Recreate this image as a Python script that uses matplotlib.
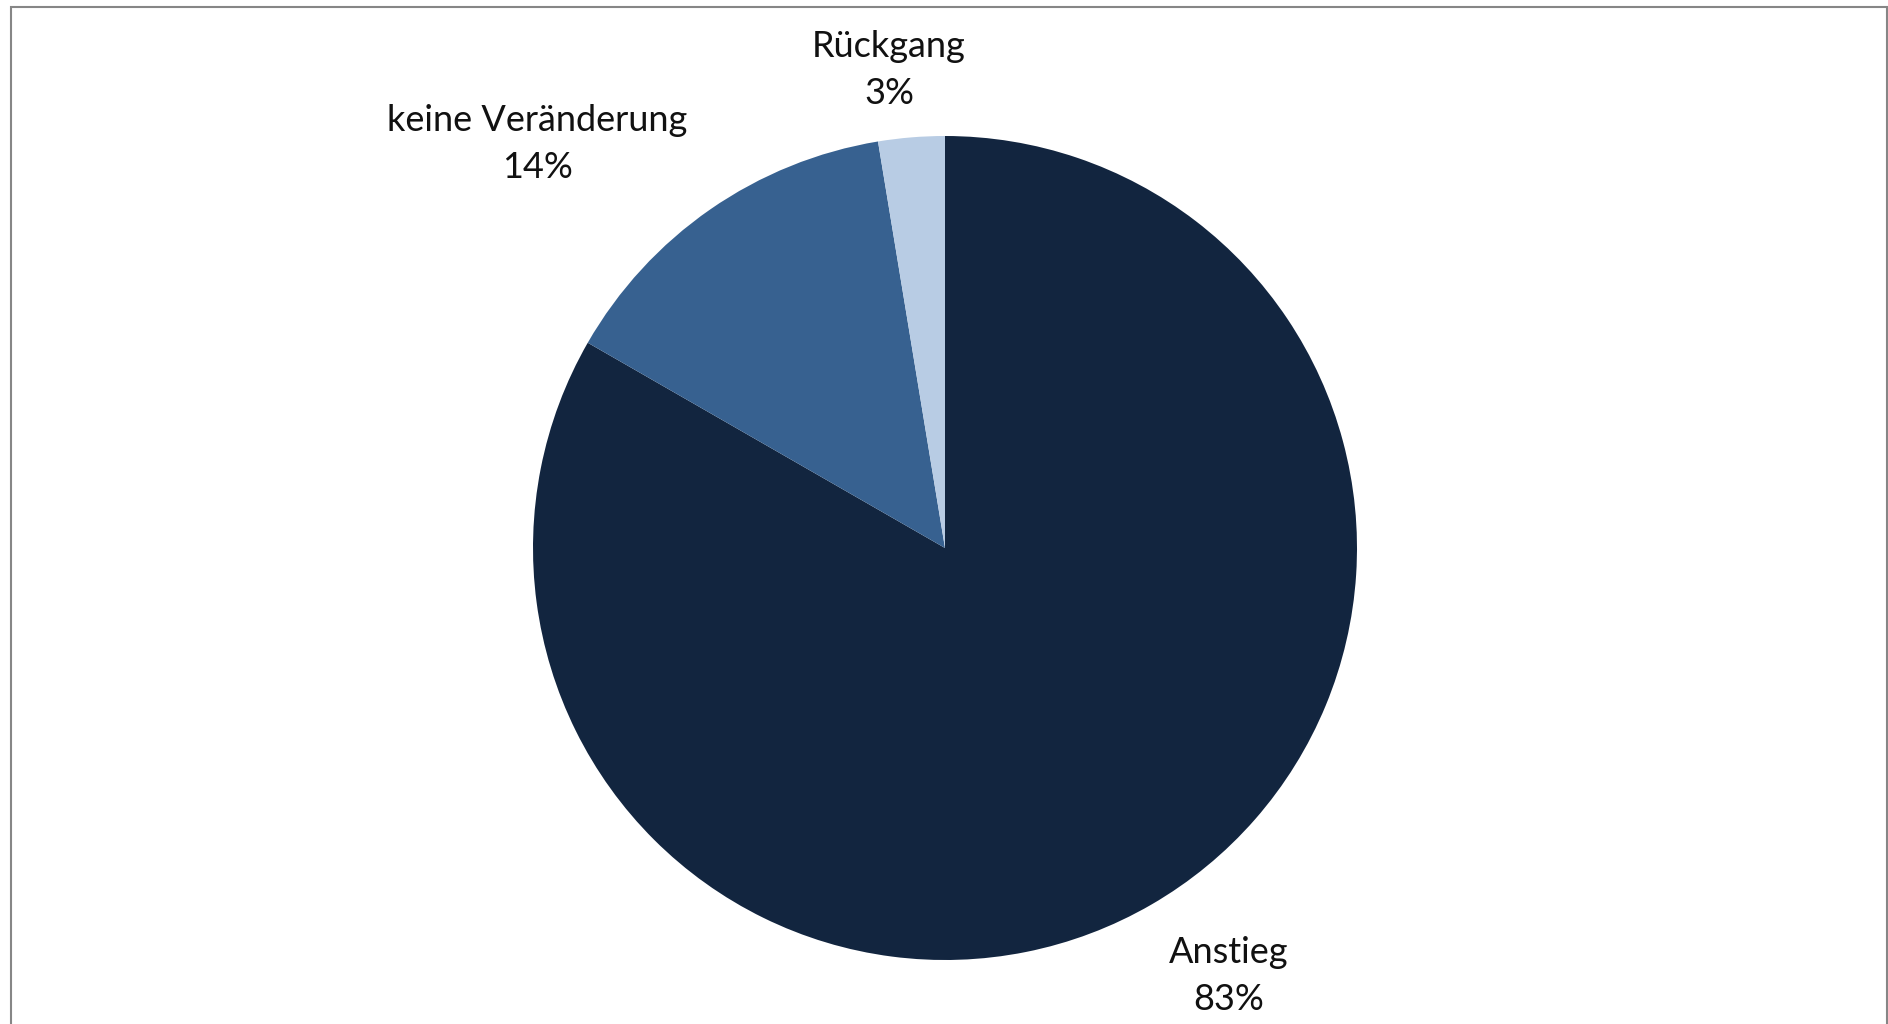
import matplotlib.pyplot as plt
from matplotlib.patches import Rectangle

# Daten
kategorien = ['Anstieg', 'keine Veränderung', 'Rückgang']
anteile = [83.3, 14.1, 2.6]
farben = ['#12253f', '#376190', '#b8cce4']

plt.rcParams['font.family'] = ['Lato', 'DejaVu Sans']

W, H = 1888, 1024
fig = plt.figure(figsize=(W / 100, H / 100), dpi=100)
ax = fig.add_axes([0, 0, 1, 1])

# Kreisdiagramm (Pixelkoordinaten, y nach oben)
ax.pie(anteile, colors=farben, startangle=90, counterclock=False,
       center=(945, H - 548), radius=412, frame=True,
       wedgeprops=dict(linewidth=0))

ax.set_xlim(0, W)
ax.set_ylim(0, H)
ax.set_aspect('equal')
ax.axis('off')

# Beschriftungen
label_pos = [(1229, 976), (537, 144), (889, 70)]
for name, wert, (x, y) in zip(kategorien, anteile, label_pos):
    ax.text(x, H - y, f'{name}\n{round(wert):.0f}%', ha='center', va='center',
            fontsize=26, fontweight='normal', color='#111111', linespacing=1.55)

# Rahmen
ax.add_patch(Rectangle((10.5, -10), 1876, H - 6 + 10 - 0.5, fill=False,
                       edgecolor='#868686', linewidth=1.5, clip_on=False))

fig.savefig('out.png', dpi=100)
